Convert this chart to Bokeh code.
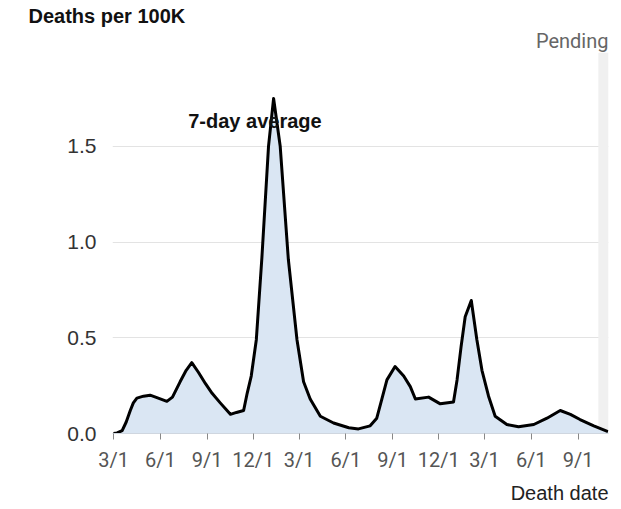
import pandas as pd
from bokeh.plotting import figure
from bokeh.models import FixedTicker, BoxAnnotation, Label, Range1d, ColumnDataSource, Title
from bokeh.embed import file_html
from bokeh.resources import INLINE

# 7-day average deaths per 100K
dates = ["2020-03-01", "2020-03-08", "2020-03-18", "2020-03-26", "2020-04-03", "2020-04-09",
         "2020-04-16", "2020-04-29", "2020-05-12", "2020-05-28", "2020-06-14", "2020-06-25",
         "2020-07-10", "2020-07-22", "2020-08-02", "2020-08-15", "2020-08-29", "2020-09-11",
         "2020-09-27", "2020-10-17", "2020-10-29", "2020-11-12", "2020-11-19", "2020-11-27",
         "2020-12-07", "2020-12-18", "2020-12-31", "2021-01-10", "2021-01-23", "2021-02-08",
         "2021-02-25", "2021-03-10", "2021-03-23", "2021-04-12", "2021-05-08", "2021-06-07",
         "2021-06-26", "2021-07-19", "2021-08-01", "2021-08-11", "2021-08-21", "2021-09-06",
         "2021-09-23", "2021-10-06", "2021-10-16", "2021-11-11", "2021-12-04", "2021-12-30",
         "2022-01-06", "2022-01-14", "2022-01-22", "2022-02-03", "2022-02-14", "2022-02-24",
         "2022-03-09", "2022-03-22", "2022-04-14", "2022-05-07", "2022-06-06", "2022-07-02",
         "2022-07-28", "2022-08-17", "2022-09-05", "2022-10-02", "2022-10-30"]
avg = [0.0, 0.003, 0.015, 0.06, 0.12, 0.16,
       0.185, 0.195, 0.2, 0.185, 0.168, 0.19,
       0.27, 0.33, 0.37, 0.32, 0.26, 0.21,
       0.16, 0.10, 0.11, 0.12, 0.21, 0.30,
       0.49, 0.92, 1.5, 1.75, 1.5, 0.91,
       0.49, 0.27, 0.18, 0.09, 0.055, 0.03,
       0.024, 0.04, 0.08, 0.18, 0.28, 0.35,
       0.30, 0.245, 0.18, 0.19, 0.155, 0.165,
       0.28, 0.455, 0.61, 0.695, 0.49, 0.33,
       0.195, 0.09, 0.047, 0.035, 0.047, 0.08,
       0.12, 0.10, 0.073, 0.04, 0.01]

tick_dates = ["2020-03-01", "2020-06-01", "2020-09-01", "2020-12-01", "2021-03-01", "2021-06-01",
              "2021-09-01", "2021-12-01", "2022-03-01", "2022-06-01", "2022-09-01"]
tick_labels = ["3/1", "6/1", "9/1", "12/1", "3/1", "6/1", "9/1", "12/1", "3/1", "6/1", "9/1"]
y_ticks = [0, 0.5, 1.0, 1.5]
y_tick_labels = ["0.0", "0.5", "1.0", "1.5"]

pending_start = "2022-10-11"
x_start, x_end = "2020-02-28", "2022-10-31"
y_max = 1.99


def ms(s):
    return pd.Timestamp(s).value / 1e6


src = ColumnDataSource(dict(x=pd.to_datetime(dates), y=avg))

p = figure(width=620, height=508, x_axis_type="datetime", output_backend="svg",
           toolbar_location=None,
           x_range=Range1d(ms(x_start), ms(x_end)), y_range=Range1d(0, y_max),
           min_border_left=112, min_border_right=12, min_border_top=52, min_border_bottom=74)
p.outline_line_color = None
p.background_fill_color = "white"
p.border_fill_color = "white"

p.add_layout(BoxAnnotation(left=ms(pending_start), right=ms(x_end), fill_color="#f0f0f0",
                           fill_alpha=1.0, line_color=None, level="underlay"))

p.varea(x="x", y1=0, y2="y", source=src, fill_color="#dae6f3")
p.line(x="x", y="y", source=src, line_color="black", line_width=3, line_join="round")

# axes
p.xgrid.grid_line_color = None
p.ygrid.grid_line_color = "#e3e3e3"
p.ygrid.grid_line_width = 1

p.xaxis.ticker = FixedTicker(ticks=[ms(d) for d in tick_dates])
p.xaxis.major_label_overrides = {ms(d): l for d, l in zip(tick_dates, tick_labels)}
p.xaxis.axis_line_color = "#cfd6df"
p.xaxis.major_tick_line_color = "#888888"
p.xaxis.major_tick_in = 0
p.xaxis.major_tick_out = 6
p.xaxis.minor_tick_line_color = None
p.xaxis.major_label_text_font = "Roboto"
p.xaxis.major_label_text_font_size = "20px"
p.xaxis.major_label_text_color = "#555555"
p.xaxis.major_label_standoff = 8

p.yaxis.ticker = FixedTicker(ticks=y_ticks)
p.yaxis.major_label_overrides = {t: l for t, l in zip(y_ticks, y_tick_labels)}
p.yaxis.axis_line_color = None
p.yaxis.major_tick_line_color = None
p.yaxis.major_tick_out = 0
p.yaxis.major_tick_in = 0
p.yaxis.minor_tick_line_color = None
p.yaxis.major_label_text_font = "Liberation Sans"
p.yaxis.major_label_text_font_size = "21px"
p.yaxis.major_label_text_color = "#333333"
p.yaxis.major_label_standoff = 16

# texts outside the frame
p.add_layout(Title(text="Pending", align="right", text_font="Roboto", text_font_size="20px",
                   text_font_style="normal", text_color="#666666", standoff=0), "above")
p.add_layout(Title(text="Deaths per 100K", align="left", offset=-84, text_font="Liberation Sans",
                   text_font_style="bold", text_font_size="20px", text_color="#111111",
                   standoff=0), "above")
p.add_layout(Title(text="Death date", align="right", text_font="Liberation Sans",
                   text_font_style="normal", text_font_size="20px", text_color="#222222",
                   standoff=10), "below")

p.add_layout(Label(x=ms("2020-07-26"), y=1.634, text="7-day average",
                   text_font="Liberation Sans", text_font_style="bold", text_font_size="20px",
                   text_color="#111111", text_baseline="alphabetic", text_align="left"))

open("out.html", "w").write(file_html(p, INLINE))
